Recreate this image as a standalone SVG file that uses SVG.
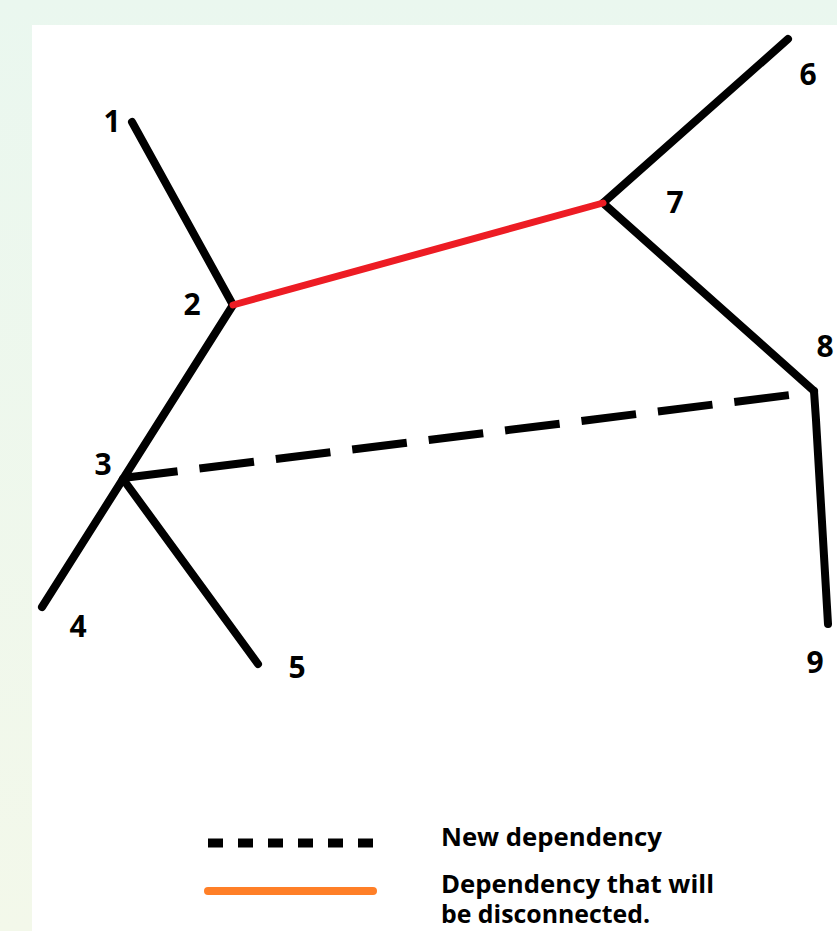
<svg xmlns="http://www.w3.org/2000/svg" width="837" height="931" viewBox="0 0 837 931">
<defs>
<linearGradient id="bg" x1="0" y1="0" x2="0" y2="1">
<stop offset="0" stop-color="#EAF7EF"/>
<stop offset="1" stop-color="#F3F8EA"/>
</linearGradient>
<style>
.edge{stroke:#000;stroke-width:8;stroke-linecap:round;fill:none}
.red{stroke:#ED1C24;stroke-width:7;stroke-linecap:round;fill:none}
.dash{stroke:#000;stroke-width:8;stroke-dasharray:55 22;fill:none}
.num{font-family:"Open Sans","Liberation Sans",sans-serif;font-weight:bold;font-size:30px;fill:#000;text-anchor:middle}
.leg{font-family:"Open Sans","Liberation Sans",sans-serif;font-weight:bold;font-size:25px;fill:#000}
</style>
</defs>
<rect x="0" y="0" width="837" height="931" fill="url(#bg)"/>
<rect x="32" y="25" width="805" height="906" fill="#FFFFFF"/>
<g id="connectors">
<line class="edge" x1="132" y1="122" x2="233" y2="305"/>
<line class="edge" x1="233" y1="305" x2="123" y2="479"/>
<line class="edge" x1="123" y1="479" x2="42" y2="607"/>
<line class="edge" x1="123" y1="479" x2="258" y2="664"/>
<line class="edge" x1="603" y1="203" x2="788" y2="39"/>
<line class="edge" x1="603" y1="203" x2="814" y2="391"/>
<polyline class="edge" points="814,391 816,420 828,624"/>
<line class="red" x1="233" y1="305" x2="603" y2="203"/>
<line class="dash" x1="123" y1="478" x2="814" y2="392"/>
</g>
<g id="n1"><text class="num" x="112" y="132">1</text></g>
<g id="n2"><text class="num" x="192" y="315">2</text></g>
<g id="n3"><text class="num" x="103" y="475">3</text></g>
<g id="n4"><text class="num" x="78" y="637">4</text></g>
<g id="n5"><text class="num" x="297" y="678">5</text></g>
<g id="n6"><text class="num" x="808" y="85">6</text></g>
<g id="n7"><text class="num" x="675" y="213">7</text></g>
<g id="n8"><text class="num" x="825" y="357">8</text></g>
<g id="n9"><text class="num" x="815" y="673">9</text></g>
<g id="legend">
<line x1="208" y1="843" x2="373" y2="843" stroke="#000" stroke-width="9" stroke-dasharray="15 15"/>
<line x1="208" y1="891" x2="373" y2="891" stroke="#FF7F27" stroke-width="8" stroke-linecap="round"/>
<text class="leg" x="441" y="846" textLength="221" lengthAdjust="spacingAndGlyphs">New dependency</text>
<text class="leg" x="441" y="893" textLength="273" lengthAdjust="spacingAndGlyphs">Dependency that will</text>
<text class="leg" x="441" y="923" textLength="209" lengthAdjust="spacingAndGlyphs">be disconnected.</text>
</g>
</svg>
